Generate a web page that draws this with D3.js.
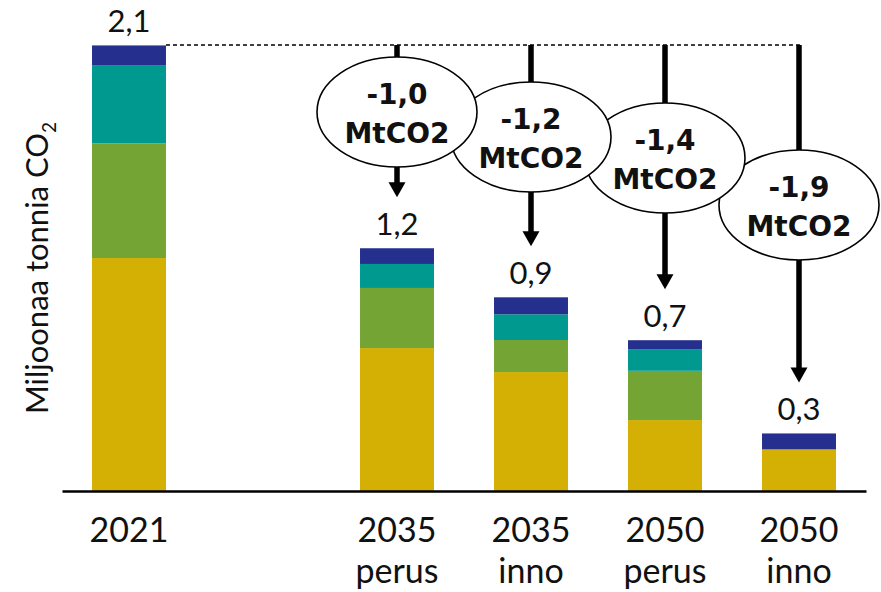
<!DOCTYPE html>
<html>
<head>
<meta charset="utf-8">
<script src="https://cdn.jsdelivr.net/npm/d3@7"></script>
<style>
  html, body { margin: 0; padding: 0; background: #fff; }
  svg { display: block; }
  text { font-family: "Lato", "Open Sans", sans-serif; fill: #111; }
</style>
</head>
<body>
<svg id="chart" width="881" height="592"></svg>
<script>
// ---- data ----
const slots = ["2021", "gap", "2035 perus", "2035 inno", "2050 perus", "2050 inno"];
const categories = ["2021", "2035 perus", "2035 inno", "2050 perus", "2050 inno"];
const tickLines = [["2021"], ["2035", "perus"], ["2035", "inno"], ["2050", "perus"], ["2050", "inno"]];
const seriesNames = ["gold", "green", "teal", "navy"];
const gold  = [1.097, 0.673, 0.560, 0.334, 0.196];
const green = [0.540, 0.283, 0.151, 0.232, 0.000];
const teal  = [0.366, 0.113, 0.121, 0.100, 0.000];
const navy  = [0.095, 0.074, 0.080, 0.044, 0.075];
const totalLabels = ["2,1", "1,2", "0,9", "0,7", "0,3"];
const reductionLabels = [null, "-1,0", "-1,2", "-1,4", "-1,9"];
const unitLabel = "MtCO2";
const baseValue = 2.1;
const yTitle = "Miljoonaa tonnia CO";
const yTitleSub = "2";

// ---- layout ----
const colors = { gold: "#D4B004", green: "#74A534", teal: "#009990", navy: "#252F8E" };
const svg = d3.select("#chart");

const x = d3.scaleBand().domain(slots).range([62, 866]).paddingInner(0.448).paddingOuter(0.224);
const y = d3.scaleLinear().domain([0, 2.1]).range([491, 45]);

const rows = categories.map((c, i) => ({ cat: c, gold: gold[i], green: green[i], teal: teal[i], navy: navy[i] }));
const stacked = d3.stack().keys(seriesNames)(rows);

// bars
svg.append("g").selectAll("g").data(stacked).join("g")
  .attr("fill", d => colors[d.key])
  .selectAll("rect").data(d => d.filter(s => s[1] - s[0] > 0)).join("rect")
  .attr("x", d => x(d.data.cat))
  .attr("width", x.bandwidth())
  .attr("y", d => y(d[1]))
  .attr("height", d => y(d[0]) - y(d[1]));

const totals = rows.map(r => r.gold + r.green + r.teal + r.navy);

// x axis
const xAxis = d3.axisBottom(x).tickSize(0).tickSizeOuter(0).tickValues(categories);
const gx = svg.append("g").attr("transform", `translate(0,${y(0)})`).call(xAxis);
gx.select(".domain").attr("stroke", "#000").attr("stroke-width", 2.5);
gx.selectAll(".tick text").each(function(d) {
  const t = d3.select(this);
  const lines = tickLines[categories.indexOf(d)];
  t.text(null).attr("y", 0).attr("dy", null)
    .attr("font-size", 34).attr("font-weight", 400)
    .attr("font-family", "Lato, 'Open Sans', sans-serif").attr("fill", "#111");
  lines.forEach((ln, k) => {
    t.append("tspan").attr("x", 0).attr("y", 51 + k * 41).text(ln);
  });
});

// dashed reference line at base level
const lastCat = categories[categories.length - 1];
svg.append("line")
  .attr("x1", x("2021") + x.bandwidth())
  .attr("x2", x(lastCat) + x.bandwidth() / 2 + 4)
  .attr("y1", y(baseValue)).attr("y2", y(baseValue))
  .attr("stroke", "#000").attr("stroke-width", 1.6).attr("stroke-dasharray", "4,3");

// arrows
const arrowG = svg.append("g");
categories.forEach((c, i) => {
  if (!reductionLabels[i]) return;
  const cx = x(c) + x.bandwidth() / 2;
  const tip = y(totals[i]) - 51;
  arrowG.append("line").attr("x1", cx).attr("x2", cx)
    .attr("y1", y(baseValue)).attr("y2", tip - 12)
    .attr("stroke", "#000").attr("stroke-width", 5.5);
  arrowG.append("path")
    .attr("d", `M${cx - 8.5},${tip - 15}L${cx + 8.5},${tip - 15}L${cx},${tip}Z`)
    .attr("fill", "#000");
});

// ellipses (drawn right to left so left ones overlap)
const ellipseCY = [null, 112, 137, 158, 205];
const ellG = svg.append("g");
for (let i = categories.length - 1; i >= 1; i--) {
  const cx = x(categories[i]) + x.bandwidth() / 2;
  const cy = ellipseCY[i];
  const g = ellG.append("g");
  g.append("ellipse").attr("cx", cx).attr("cy", cy).attr("rx", 80).attr("ry", 55)
    .attr("fill", "#fff").attr("stroke", "#000").attr("stroke-width", 1.6);
  g.append("text").attr("x", cx).attr("y", cy - 8).attr("text-anchor", "middle")
    .attr("font-weight", "bold").attr("font-size", 28)
    .style("font-family", "'DejaVu Sans', sans-serif")
    .text(reductionLabels[i]);
  g.append("text").attr("x", cx).attr("y", cy + 31).attr("text-anchor", "middle")
    .attr("font-weight", "bold").attr("font-size", 28)
    .style("font-family", "'DejaVu Sans', sans-serif")
    .text(unitLabel);
}

// total labels (kept inside the top edge)
svg.append("g").selectAll("text").data(categories).join("text")
  .attr("x", c => x(c) + x.bandwidth() / 2)
  .attr("y", (c, i) => Math.max(y(totals[i]) - 13, 27))
  .attr("text-anchor", "middle").attr("font-size", 31).attr("font-weight", 400)
  .text((c, i) => totalLabels[i]);

// y title
const yt = svg.append("text")
  .attr("transform", `translate(48,${(y(0) + y(baseValue)) / 2}) rotate(-90)`)
  .attr("text-anchor", "middle").attr("font-size", 31).attr("font-weight", 400);
yt.append("tspan").text(yTitle);
yt.append("tspan").attr("font-size", 19).attr("dy", 8).text(yTitleSub);
</script>
</body>
</html>
